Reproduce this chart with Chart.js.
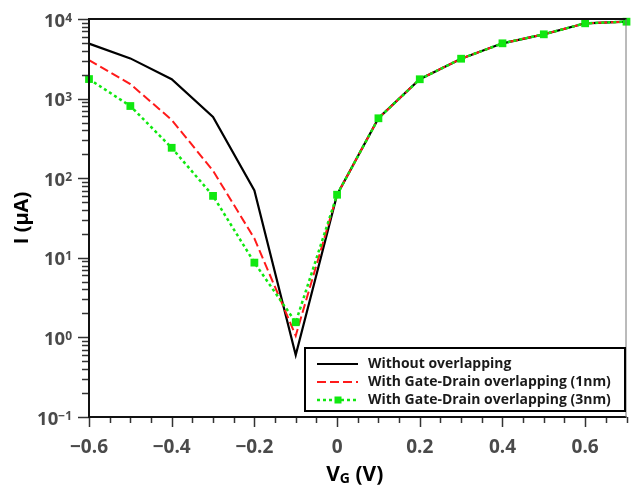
<!DOCTYPE html>
<html><head><meta charset="utf-8">
<script src="https://cdn.jsdelivr.net/npm/chart.js@4.4.1/dist/chart.umd.min.js"></script>
<style>html,body{margin:0;padding:0;background:#fff;}#wrap{width:632px;height:485px;position:relative;}</style>
</head><body><div id="wrap"><canvas id="c" width="632" height="485"></canvas></div>
<script>
// ---- data ----
const vg = [-0.6, -0.5, -0.4, -0.3, -0.2, -0.1, 0, 0.1, 0.2, 0.3, 0.4, 0.5, 0.6, 0.7];
const withoutOverlap = [4900, 3200, 1750, 590, 70, 0.6, 62, 566, 1750, 3170, 4950, 6420, 8830, 9250];
const gateDrain1nm  = [3050, 1520, 540, 124, 17.5, 1.05, 62, 566, 1750, 3170, 4950, 6420, 8830, 9250];
const gateDrain3nm  = [1760, 807, 241, 60, 8.7, 1.55, 62, 566, 1750, 3170, 4950, 6420, 8830, 9250];
const seriesLabels = ['Without overlapping', 'With Gate-Drain overlapping (1nm)', 'With Gate-Drain overlapping (3nm)'];
const xTickValues = [-0.6, -0.4, -0.2, 0, 0.2, 0.4, 0.6];
const xTickLabels = ['\u22120.6', '\u22120.4', '\u22120.2', '0', '0.2', '0.4', '0.6'];
const yTickValues = [0.1, 1, 10, 100, 1000, 10000];
const yTickExponents = ['\u22121', '0', '1', '2', '3', '4'];
const yTitle = 'I (\u03bcA)';
const xTitleParts = ['V', 'G', ' (V)'];

const FONT = '"Open Sans", "DejaVu Sans", sans-serif';
const pts = arr => vg.map((x, i) => ({x: x, y: arr[i]}));

const axisText = {
  id: 'axisText',
  afterDraw(chart) {
    const ctx = chart.ctx, a = chart.chartArea;
    const xs = chart.scales.x, ys = chart.scales.y;
    ctx.save();
    // ticks
    ctx.strokeStyle = '#333'; ctx.lineWidth = 1.5;
    ys.ticks.forEach(t => {
      const p = Math.round(ys.getPixelForValue(t.value)) + 0.5;
      const major = yTickValues.some(v => Math.abs(v - t.value) / v < 1e-6);
      const len = major ? 11 : 7;
      ctx.beginPath(); ctx.moveTo(a.left - len, p); ctx.lineTo(a.left, p); ctx.stroke();
    });
    xs.ticks.forEach(t => {
      const p = Math.round(xs.getPixelForValue(t.value)) + 0.5;
      const major = xTickValues.some(v => Math.abs(v - t.value) < 1e-6);
      const len = major ? 10 : 6;
      ctx.beginPath(); ctx.moveTo(p, a.bottom); ctx.lineTo(p, a.bottom + len); ctx.stroke();
    });
    // frame
    ctx.strokeStyle = '#111'; ctx.lineWidth = 2;
    ctx.beginPath();
    ctx.moveTo(a.right, a.top); ctx.lineTo(a.left, a.top); ctx.lineTo(a.left, a.bottom); ctx.lineTo(a.right, a.bottom);
    ctx.stroke();
    ctx.strokeStyle = '#777'; ctx.lineWidth = 1;
    ctx.beginPath(); ctx.moveTo(a.right - 0.5, a.top); ctx.lineTo(a.right - 0.5, a.bottom); ctx.stroke();
    // y labels
    ctx.fillStyle = '#4a4a4a';
    yTickValues.forEach((v, i) => {
      const p = ys.getPixelForValue(v);
      ctx.font = 'bold 12px ' + FONT;
      ctx.textAlign = 'right'; ctx.textBaseline = 'alphabetic';
      const ew = ctx.measureText(yTickExponents[i]).width;
      ctx.fillText(yTickExponents[i], 72, p + 2.5);
      ctx.font = 'bold 18.5px ' + FONT;
      ctx.fillText('10', 72 - ew, p + 7.5);
    });
    // x labels
    ctx.font = 'bold 19px ' + FONT; ctx.textAlign = 'center'; ctx.textBaseline = 'alphabetic';
    xTickValues.forEach((v, i) => {
      ctx.fillText(xTickLabels[i], xs.getPixelForValue(v), 453);
    });
    // y title
    ctx.fillStyle = '#000';
    ctx.save();
    ctx.translate(22, (a.top + a.bottom) / 2);
    ctx.rotate(-Math.PI / 2);
    ctx.font = 'bold 20px ' + FONT; ctx.textAlign = 'center'; ctx.textBaseline = 'middle';
    ctx.fillText(yTitle, 0, 0);
    ctx.restore();
    // x title with subscript
    const big = 'bold 21px ' + FONT, small = 'bold 14px ' + FONT;
    ctx.font = big; const w1 = ctx.measureText(xTitleParts[0]).width, w3 = ctx.measureText(xTitleParts[2]).width;
    ctx.font = small; const w2 = ctx.measureText(xTitleParts[1]).width;
    const total = w1 + w2 + w3;
    let x0 = (a.left + a.right) / 2 - total / 2 - 3;
    ctx.textAlign = 'left';
    ctx.font = big; ctx.fillText(xTitleParts[0], x0, 481);
    ctx.font = small; ctx.fillText(xTitleParts[1], x0 + w1, 483);
    ctx.font = big; ctx.fillText(xTitleParts[2], x0 + w1 + w2, 481);
    // legend
    const bx = 305, by = 348, bw = 320, bh = 63;
    ctx.fillStyle = '#fff'; ctx.fillRect(bx, by, bw, bh);
    ctx.strokeStyle = '#000'; ctx.lineWidth = 2; ctx.strokeRect(bx, by, bw, bh);
    const rows = [364, 382, 400];
    ctx.font = 'bold 14px ' + FONT;
    const mw = ctx.measureText(seriesLabels[2]).width;
    const lfs = Math.max(13, Math.min(15.5, 14 * 243 / mw));
    chart.data.datasets.forEach((ds, i) => {
      const y = rows[i];
      ctx.save();
      ctx.strokeStyle = ds.borderColor; ctx.lineWidth = ds.borderWidth;
      ctx.setLineDash(ds.borderDash || []);
      ctx.beginPath(); ctx.moveTo(317, y); ctx.lineTo(358, y); ctx.stroke();
      ctx.setLineDash([]);
      if (ds.pointRadius > 0) {
        ctx.fillStyle = ds.pointBackgroundColor;
        ctx.fillRect(338 - 3.5, y - 3.5, 7, 7);
      }
      ctx.restore();
      ctx.fillStyle = '#1a1a1a'; ctx.font = 'bold ' + lfs.toFixed(2) + 'px ' + FONT;
      ctx.textAlign = 'left'; ctx.textBaseline = 'middle';
      ctx.fillText(ds.label, 368, y);
    });
    ctx.restore();
  }
};

new Chart(document.getElementById('c'), {
  type: 'line',
  data: {
    datasets: [
      {label: seriesLabels[0], data: pts(withoutOverlap), borderColor: '#000', borderWidth: 2.2, pointRadius: 0, order: 3, tension: 0, clip: false},
      {label: seriesLabels[1], data: pts(gateDrain1nm), borderColor: '#ff1a1a', borderWidth: 2, borderDash: [9, 4], pointRadius: 0, order: 2, tension: 0, clip: false},
      {label: seriesLabels[2], data: pts(gateDrain3nm), borderColor: '#10e810', borderWidth: 2.5, borderDash: [3, 3], pointRadius: 5.5, pointStyle: 'rect', pointBackgroundColor: '#10e810', pointBorderWidth: 0, pointBorderColor: '#10e810', order: 1, tension: 0, clip: false}
    ]
  },
  options: {
    responsive: false, animation: false, devicePixelRatio: 1,
    layout: {padding: {top: 19, right: 1, left: 0, bottom: 0}},
    plugins: {legend: {display: false}, tooltip: {enabled: false}},
    scales: {
      x: {type: 'linear', min: -0.6, max: 0.7, ticks: {stepSize: 0.05, display: false}, grid: {display: false}, border: {display: false},
          afterFit: s => { s.height = 68; }},
      y: {type: 'logarithmic', min: 0.1, max: 10000, ticks: {display: false}, grid: {display: false}, border: {display: false},
          afterFit: s => { s.width = 89; },
          afterBuildTicks: s => {
            const t = [];
            yTickValues.forEach((d, i) => {
              if (i < yTickValues.length - 1) { for (let k = 1; k <= 9; k++) t.push({value: d * k}); }
              else t.push({value: d});
            });
            s.ticks = t;
          }}
    }
  },
  plugins: [axisText]
});
</script></body></html>
